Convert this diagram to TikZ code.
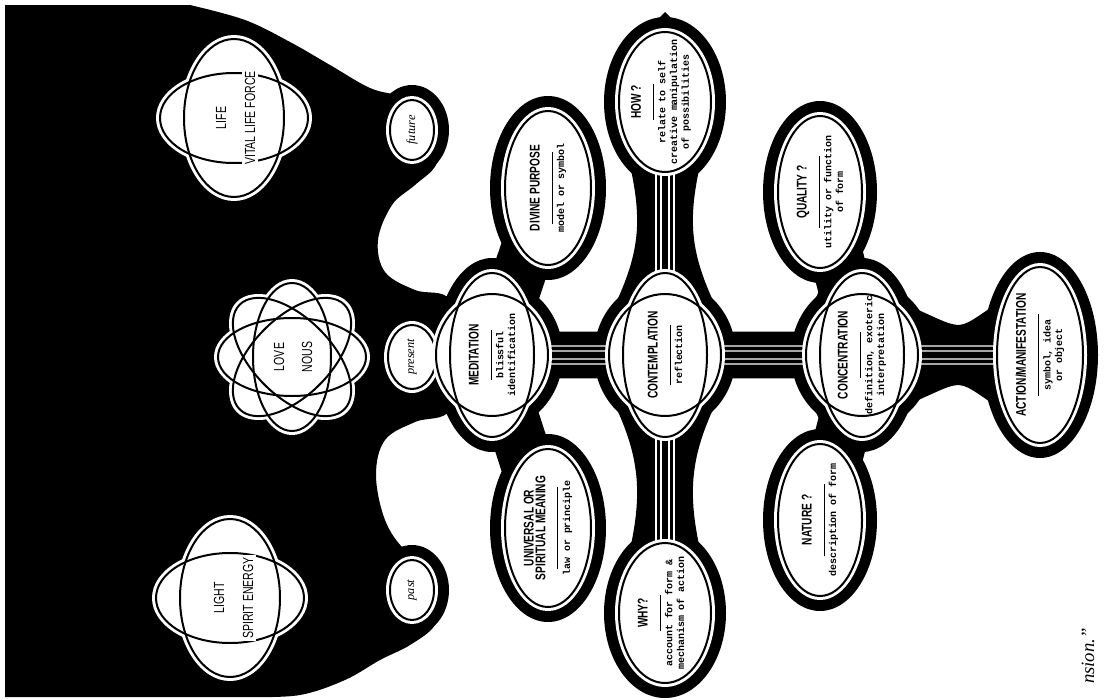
\documentclass[tikz,border=0pt]{standalone}
\usepackage{fontspec}
\usetikzlibrary{calc}
\newfontfamily\headfont[FakeStretch=0.72]{Liberation Sans}
\newfontfamily\typefont{Liberation Mono}
\newfontfamily\notefont{Liberation Serif}
\newcommand{\hd}[1]{{\headfont\bfseries\fontsize{12}{13.5}\selectfont #1}}
\newcommand{\divider}[1]{\rule{#1}{0.8pt}}

\tikzset{
  halo/.style={fill=black},
  arm/.style={line width=1.6cm, line cap=round},
  band/.style={line width=1.4cm},
  neck/.style={line width=1.3cm},
  cable/.style={white, line width=0.035cm},
  rim/.style={draw=black, line width=0.06cm, fill=white},
  gap/.style={fill=white},
  rottext/.style={rotate=90, align=center, inner sep=0pt},
  subtext/.style={font=\typefont\bfseries\fontsize{8.5}{10}\selectfont},
  bigcaps/.style={font=\headfont\fontsize{12.5}{14}\selectfont},
  tense/.style={font=\notefont\itshape\fontsize{10.5}{12}\selectfont},
}

\begin{document}
\begin{tikzpicture}[x=0.03cm, y=-0.03cm]
\useasboundingbox (0,0) rectangle (1113,700);

% centres
\coordinate (life) at (234,118);
\coordinate (love) at (292,357);
\coordinate (light) at (230,598);
\coordinate (fut) at (412,130);
\coordinate (pres) at (412,357);
\coordinate (past) at (412,590);
\coordinate (med) at (492,355);
\coordinate (div) at (548,188);
\coordinate (uni) at (548,528);
\coordinate (con) at (665,355);
\coordinate (how) at (665,102);
\coordinate (why) at (665,613);
\coordinate (qua) at (820,192);
\coordinate (nat) at (820,520);
\coordinate (conc) at (862,355);
\coordinate (act) at (1040,355);
\coordinate (top) at (665,12);
\coordinate (bot) at (665,692);

% black ground
\fill (5,697) -- (5,5) -- plot[smooth, tension=0.6] coordinates {
  (190,5) (245,20) (290,42) (330,65) (370,88) (400,96) (428,108) (442,135)
  (436,165) (415,185) (392,205) (378,240) (385,272) (415,290) (450,300)
  (455,355) (450,410) (415,422) (385,440) (376,475) (385,520) (405,550)
  (432,565) (442,595) (435,625) (410,645) (380,660) (345,680) (300,695) (250,697)}
  -- cycle;

\draw[arm] (med) -- (div) (med) -- (uni);
\draw[arm] (conc) -- (qua) (conc) -- (nat);
\draw[band] (pres) -- (med) -- (con) -- (conc);
\draw[neck] (how) -- (con) -- (why) (conc) -- (act);
% waisted necks
\fill ($(how)+(-42,35)$) .. controls ($(how)+(-22,110)$) and ($(con)+(-22,-110)$) .. ($(con)+(-50,-50)$)
  -- ($(con)+(50,-50)$) .. controls ($(con)+(22,-110)$) and ($(how)+(22,110)$) .. ($(how)+(42,35)$) -- cycle;
\fill ($(why)+(-42,-35)$) .. controls ($(why)+(-22,-110)$) and ($(con)+(-22,110)$) .. ($(con)+(-50,50)$)
  -- ($(con)+(50,50)$) .. controls ($(con)+(22,110)$) and ($(why)+(22,-110)$) .. ($(why)+(42,-35)$) -- cycle;
\fill ($(conc)+(45,-50)$) .. controls ($(conc)+(110,-22)$) and ($(act)+(-90,-22)$) .. ($(act)+(-30,-60)$)
  -- ($(act)+(-30,60)$) .. controls ($(act)+(-90,22)$) and ($(conc)+(110,22)$) .. ($(conc)+(45,50)$) -- cycle;
\fill ($(top)+(-20,40)$) .. controls ($(top)+(-16,20)$) .. ($(top)+(-9,9)$) -- (top) -- ($(top)+(9,9)$)
  .. controls ($(top)+(16,20)$) .. ($(top)+(20,40)$) -- cycle;
\fill ($(bot)+(-20,-40)$) .. controls ($(bot)+(-16,-20)$) .. ($(bot)+(-9,-9)$) -- (bot) -- ($(bot)+(9,-9)$)
  .. controls ($(bot)+(16,-20)$) .. ($(bot)+(20,-40)$) -- cycle;

\foreach \p/\a/\b in {fut/22/30, pres/24/32, past/22/30, div/43/77, uni/43/79,
    how/46/70, why/46/70, qua/42/76, nat/42/76, act/43/88}
  \fill[halo] (\p) ellipse [x radius=\a+15, y radius=\b+15];
\foreach \p in {med, con, conc} {
  \fill[halo] (\p) ellipse [x radius=71, y radius=76];
  \fill[halo] (\p) ellipse [x radius=57, y radius=97];
}

% cables
\foreach \o in {-9,-4,4,9} {
  \draw[cable] ($(pres)+(0,\o)$) -- ($(med)+(0,\o)$) -- ($(con)+(0,\o)$) -- ($(conc)+(0,\o)$) -- ($(act)+(0,\o)$);
  \draw[cable] ($(top)+(\o,20)$) -- ($(how)+(\o,0)$) -- ($(con)+(\o,0)$) -- ($(why)+(\o,0)$) -- ($(bot)+(\o,-20)$);
}

% single bubbles
\foreach \p/\a/\b in {fut/22/30, pres/24/32, past/22/30, div/43/77, uni/43/79,
    how/46/70, why/46/70, qua/42/76, nat/42/76, act/43/88} {
  \fill[gap] (\p) ellipse [x radius=\a+4, y radius=\b+4];
  \draw[rim] (\p) ellipse [x radius=\a, y radius=\b];
}
% double bubbles
\foreach \p in {med, con, conc} {
  \fill[gap] (\p) ellipse [x radius=60, y radius=65];
  \fill[gap] (\p) ellipse [x radius=46, y radius=86];
  \fill[white] (\p) ellipse [x radius=56, y radius=61];
  \fill[white] (\p) ellipse [x radius=42, y radius=82];
  \draw[rim, fill=none] (\p) ellipse [x radius=56, y radius=61];
  \draw[rim, fill=none] (\p) ellipse [x radius=42, y radius=82];
}

% left shapes
\foreach \p in {life, light} {
  \fill[gap] (\p) ellipse [x radius=54, y radius=83];
  \fill[gap] (\p) ellipse [x radius=78, y radius=49];
}
\foreach \r in {0,45,90,135}
  \fill[gap, rotate around={\r:(love)}] (love) ellipse [x radius=78, y radius=43];
\foreach \p in {life, light} {
  \draw[rim, fill=none] (\p) ellipse [x radius=50, y radius=79];
  \draw[rim, fill=none] (\p) ellipse [x radius=74, y radius=45];
}
\foreach \r in {0,45,90,135}
  \draw[rim, fill=none, rotate around={\r:(love)}] (love) ellipse [x radius=74, y radius=39];

% texts
\node[rottext, bigcaps, fill=white, inner sep=2pt] (lifea) at ($(life)+(-13,0)$) {LIFE};
\node[rottext, bigcaps, fill=white, inner sep=2pt] (lifeb) at ($(life)+(16,0)$) {VITAL LIFE FORCE};
\node[rottext, bigcaps, fill=white, inner sep=2pt] (lighta) at ($(light)+(-11,0)$) {LIGHT};
\node[rottext, bigcaps, fill=white, inner sep=2pt] (lightb) at ($(light)+(18,0)$) {SPIRIT ENERGY};
\node[rottext, bigcaps] (lovea) at ($(love)+(-13,0)$) {LOVE};
\node[rottext, bigcaps] (loveb) at ($(love)+(15,0)$) {NOUS};

\node[rottext, tense] (futt) at (fut) {future};
\node[rottext, tense] (prest) at (pres) {present};
\node[rottext, tense] (pastt) at (past) {past};

\node[rottext, subtext] (medt) at (med) {\hd{MEDITATION}\\[1pt]\divider{42pt}\\blissful\\identification};
\node[rottext, subtext] (divt) at (div) {\hd{DIVINE PURPOSE}\\[1pt]\divider{62pt}\\model or symbol};
\node[rottext, subtext] (unit) at (uni) {\hd{UNIVERSAL OR}\\\hd{SPIRITUAL MEANING}\\[1pt]\divider{70pt}\\law or principle};
\node[rottext, subtext] (cont) at (con) {\hd{CONTEMPLATION}\\[1pt]\divider{52pt}\\reflection};
\node[rottext, subtext] (howt) at ($(how)+(-4,0)$) {\hd{HOW ?}\\[1pt]\divider{30pt}\\relate to self\\creative manipulation\\of possibilities};
\node[rottext, subtext] (whyt) at ($(why)+(-4,0)$) {\hd{WHY?}\\[1pt]\divider{30pt}\\account for form \&\\mechanism of action};
\node[rottext, subtext] (quat) at (qua) {\hd{QUALITY ?}\\[1pt]\divider{62pt}\\utility or function\\of form};
\node[rottext, subtext] (natt) at (nat) {\hd{NATURE ?}\\[1pt]\divider{62pt}\\description of form};
\node[rottext, subtext] (conct) at (conc) {\hd{CONCENTRATION}\\[1pt]\divider{40pt}\\definition, exoteric\\interpretation};
\node[rottext, subtext] (actt) at (act) {\hd{ACTION/MANIFESTATION}\\[1pt]\divider{70pt}\\symbol, idea\\or object};

\node[rottext, anchor=east, font=\notefont\itshape\fontsize{16}{16}\selectfont] (note) at (1088,628) {nsion.”};
\end{tikzpicture}
\end{document}
